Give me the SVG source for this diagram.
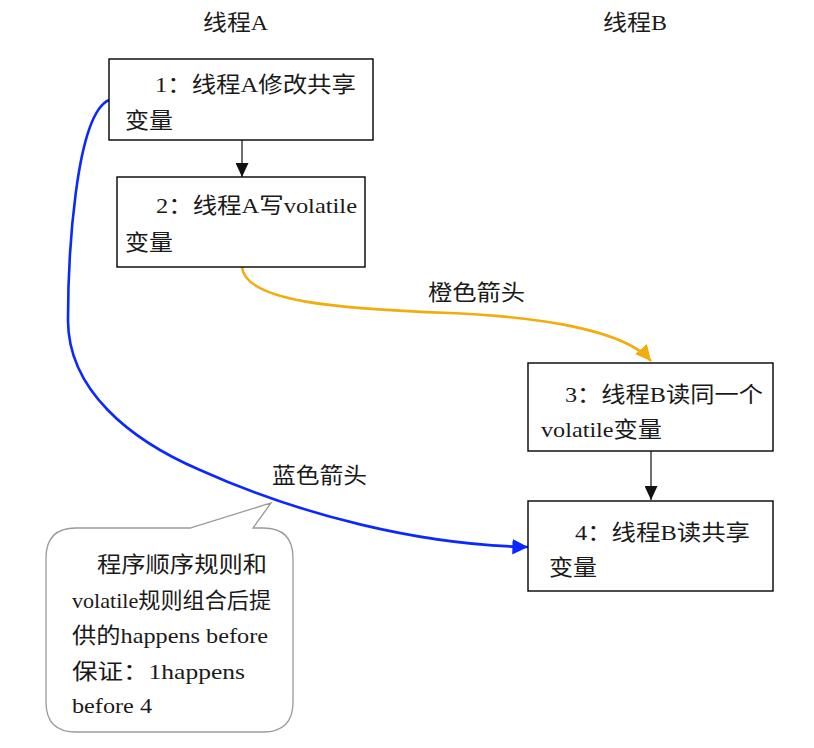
<svg xmlns="http://www.w3.org/2000/svg" width="814" height="748" viewBox="0 0 814 748">
<style>
text{font-family:"Liberation Serif","Noto Sans CJK SC",serif;font-size:22px;fill:#1a1a1a}
.box{fill:#fff;stroke:#000;stroke-width:1.4}
.call{fill:#fff;stroke:#9a9a9a;stroke-width:1.3}
.k{fill:none;stroke:#333;stroke-width:1.4}
.o{fill:none;stroke:#f2ac0c;stroke-width:2.6}
.b{fill:none;stroke:#0a28ff;stroke-width:2.6}
</style>
<defs>
<marker id="ak" viewBox="0 0 14 13" refX="14" refY="6.5" markerWidth="14" markerHeight="13" markerUnits="userSpaceOnUse" orient="auto"><path d="M0,0 L14,6.5 L0,13 z" fill="#111"/></marker>
<marker id="ao" viewBox="0 0 10 10" refX="10" refY="5" markerWidth="6" markerHeight="6" orient="auto"><path d="M0,0 L10,5 L0,10 z" fill="#f2ac0c"/></marker>
<marker id="ab" viewBox="0 0 10 10" refX="10" refY="5" markerWidth="6" markerHeight="6" orient="auto"><path d="M0,0 L10,5 L0,10 z" fill="#0a28ff"/></marker>
</defs>
<rect width="814" height="748" fill="#fff"/>
<g id="titles">
<text x="203" y="30" textLength="65" lengthAdjust="spacingAndGlyphs">线程A</text>
<text x="603" y="30" textLength="64" lengthAdjust="spacingAndGlyphs">线程B</text>
</g>
<g id="connectors">
<path class="k" d="M242,140 L242,177" marker-end="url(#ak)"/>
<path class="k" d="M651,451 L651,500" marker-end="url(#ak)"/>
<path class="o" d="M242,267 C245,302 340,309 450,313 C540,317 625,330 651,361" marker-end="url(#ao)"/>
<path class="b" d="M109,100 C75,115 68,260 68,320 C68,390 130,440 200,470 C300,515 420,545 528,547" marker-end="url(#ab)"/>
<text x="428" y="300" textLength="97" lengthAdjust="spacingAndGlyphs">橙色箭头</text>
<text x="272" y="483" textLength="95" lengthAdjust="spacingAndGlyphs">蓝色箭头</text>
</g>
<g id="n1">
<rect class="box" x="109" y="59" width="264" height="81"/>
<text x="155" y="92" textLength="201" lengthAdjust="spacingAndGlyphs">1：线程A修改共享</text>
<text x="125" y="128" textLength="48" lengthAdjust="spacingAndGlyphs">变量</text>
</g>
<g id="n2">
<rect class="box" x="117" y="177" width="248" height="90"/>
<text x="156" y="213" textLength="201" lengthAdjust="spacingAndGlyphs">2：线程A写volatile</text>
<text x="125" y="250" textLength="48" lengthAdjust="spacingAndGlyphs">变量</text>
</g>
<g id="n3">
<rect class="box" x="528" y="363" width="245" height="88"/>
<text x="565" y="402" textLength="198" lengthAdjust="spacingAndGlyphs">3：线程B读同一个</text>
<text x="541" y="437" textLength="121" lengthAdjust="spacingAndGlyphs">volatile变量</text>
</g>
<g id="n4">
<rect class="box" x="528" y="501" width="245" height="90"/>
<text x="575" y="540" textLength="175" lengthAdjust="spacingAndGlyphs">4：线程B读共享</text>
<text x="549" y="575" textLength="48" lengthAdjust="spacingAndGlyphs">变量</text>
</g>
<g id="callout">
<path class="call" d="M76,528 L190,528 L271,503 L253,528 L263,528 Q293,528 293,558 L293,702 Q293,732 263,732 L76,732 Q46,732 46,702 L46,558 Q46,528 76,528 Z"/>
<text x="97" y="572" textLength="170" lengthAdjust="spacingAndGlyphs">程序顺序规则和</text>
<text x="72" y="608" textLength="199" lengthAdjust="spacingAndGlyphs">volatile规则组合后提</text>
<text x="72" y="643" textLength="196" lengthAdjust="spacingAndGlyphs">供的happens before</text>
<text x="72" y="679" textLength="173" lengthAdjust="spacingAndGlyphs">保证：1happens</text>
<text x="72" y="713" textLength="80" lengthAdjust="spacingAndGlyphs">before 4</text>
</g>
</svg>
